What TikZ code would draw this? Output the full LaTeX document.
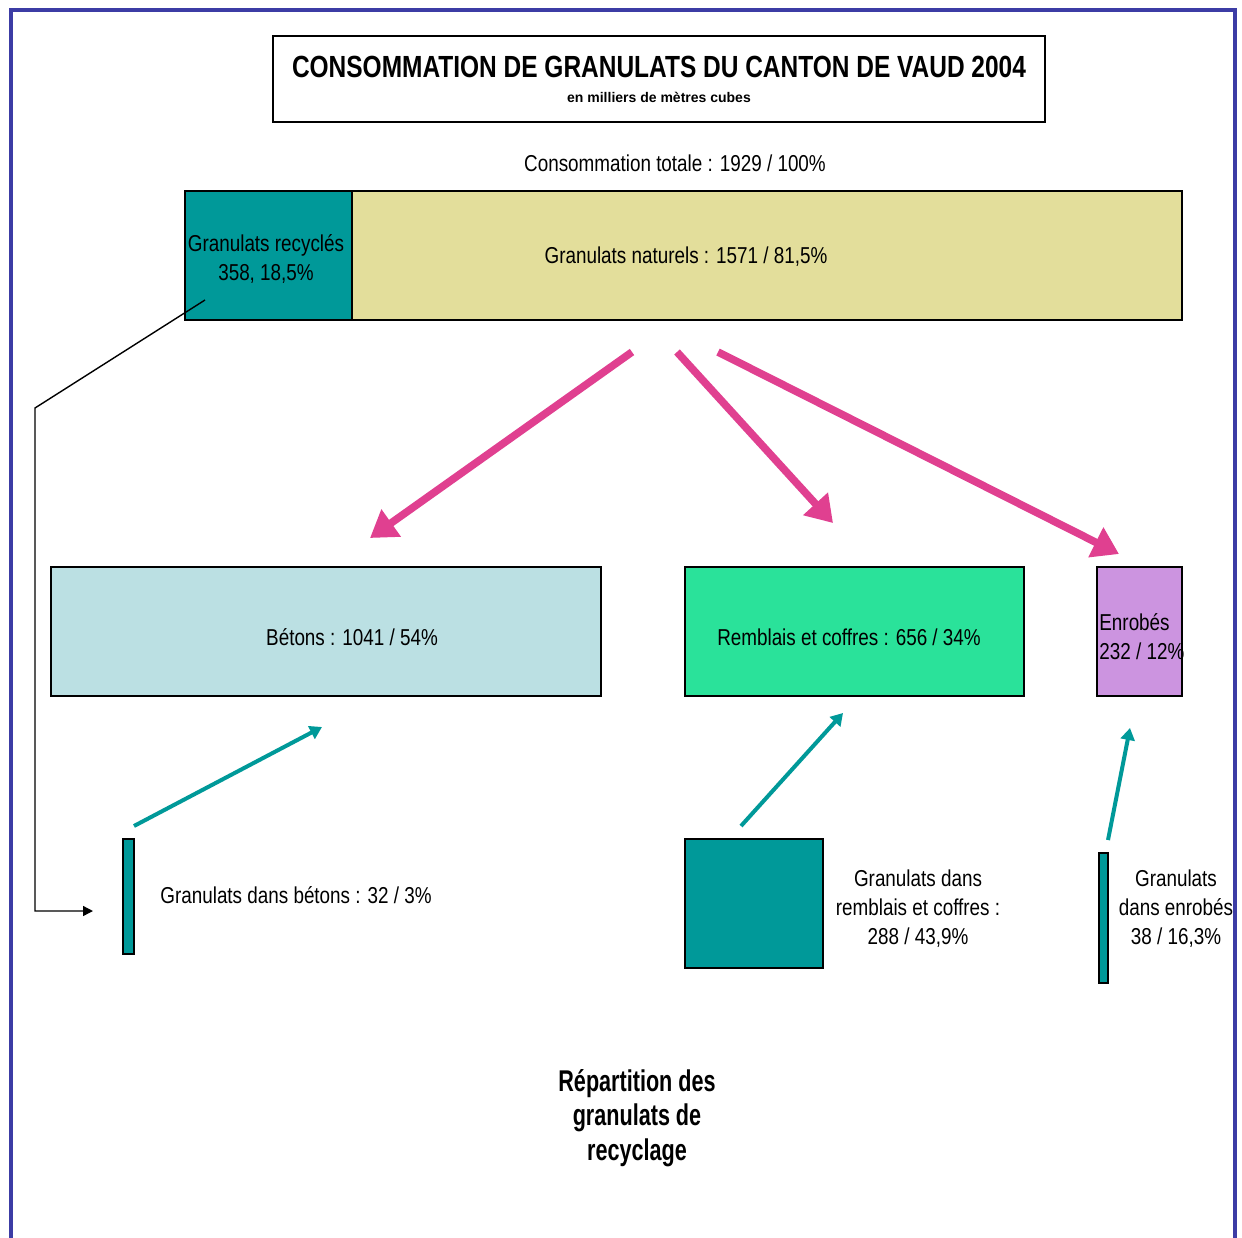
\documentclass[tikz,border=0pt]{standalone}
\usepackage{fontspec}
\setmainfont{Liberation Sans}
\newfontfamily\condf[FakeStretch=0.82]{Liberation Sans}
\newfontfamily\titlef[FakeStretch=0.8]{Liberation Sans}
\newfontfamily\footf[FakeStretch=0.72]{Liberation Sans}
\usetikzlibrary{arrows.meta}
\definecolor{tealc}{RGB}{0,153,153}
\definecolor{khaki}{RGB}{227,222,155}
\definecolor{lblue}{RGB}{187,224,227}
\definecolor{mint}{RGB}{42,226,154}
\definecolor{violetc}{RGB}{204,148,224}
\definecolor{pinkc}{RGB}{224,64,144}
\definecolor{framec}{RGB}{60,60,165}
\tikzset{
  blk/.style={draw=black, line width=0.8pt, inner sep=0pt, outer sep=0pt},
  txt/.style={inner sep=0pt, font=\condf\fontsize{11.5}{14.5}\selectfont, align=center},
  pinkarrow/.style={draw=pinkc, line width=3.8pt, -{Triangle[length=13pt,width=16pt]}},
  tealarrow/.style={draw=tealc, line width=2pt, -{Triangle[length=6pt,width=7pt]}},
  blackarrow/.style={draw=black, line width=0.7pt, -{Triangle[length=5pt,width=5pt]}}
}
\begin{document}
\begin{tikzpicture}[x=0.5pt,y=-0.5pt]
\useasboundingbox (0,0) rectangle (1242,1237);
\fill[white] (0,0) rectangle (1242,1237);
% outer frame
\draw[framec, line width=2pt] (10.5,1240) -- (10.5,9.5) -- (1235,9.5) -- (1235,1240);
% title
\node[blk, fill=white, minimum width=386pt, minimum height=43pt] (titlebox) at (659,79) {};
\node[inner sep=0pt, font=\titlef\bfseries\fontsize{15.3}{18}\selectfont] (title) at (659,67) {CONSOMMATION DE GRANULATS DU CANTON DE VAUD 2004};
\node[inner sep=0pt, font=\bfseries\fontsize{7}{8}\selectfont] (subtitle) at (659,97) {en milliers de mètres cubes};
\node[txt] (total) at (675,163) {Consommation totale : 1929 / 100\%};
% top bar
\node[blk, fill=tealc, minimum width=83.5pt, minimum height=64.5pt] (rec) at (268.5,255.5) {};
\node[blk, fill=khaki, minimum width=415pt, minimum height=64.5pt] (nat) at (767,255.5) {};
\node[txt] (rectxt) at (266,259) {Granulats recyclés\\358, 18,5\%};
\node[txt] (nattxt) at (686,257) {Granulats naturels : 1571 / 81,5\%};
% destination boxes
\node[blk, fill=lblue, minimum width=275pt, minimum height=64.5pt] (beton) at (326,631.5) {};
\node[blk, fill=mint, minimum width=169.5pt, minimum height=64.5pt] (remb) at (854.5,631.5) {};
\node[blk, fill=violetc, minimum width=42.5pt, minimum height=64.5pt] (enr) at (1139.5,631.5) {};
\node[txt] (betontxt) at (352,637) {Bétons : 1041 / 54\%};
\node[txt] (rembtxt) at (849,637) {Remblais et coffres : 656 / 34\%};
\node[txt, align=left, anchor=west] (enrtxt) at (1099,637) {Enrobés\\232 / 12\%};
% recycled portions
\node[blk, fill=tealc, minimum width=5.5pt, minimum height=57.5pt] (gb) at (128.5,896.5) {};
\node[blk, fill=tealc, minimum width=69pt, minimum height=64.5pt] (gr) at (754,903.5) {};
\node[blk, fill=tealc, minimum width=4.5pt, minimum height=65pt] (ge) at (1103.5,918) {};
\node[txt, anchor=west] (gbtxt) at (160,895) {Granulats dans bétons : 32 / 3\%};
\node[txt] (grtxt) at (918,909) {Granulats dans\\remblais et coffres :\\288 / 43,9\%};
\node[txt] (getxt) at (1176,909) {Granulats\\dans enrobés\\38 / 16,3\%};
% pink arrows
\coordinate (p1s) at (632,352); \coordinate (p1e) at (370,538);
\coordinate (p2s) at (677,352); \coordinate (p2e) at (833,523);
\coordinate (p3s) at (718,352); \coordinate (p3e) at (1119,554);
\draw[pinkarrow] (p1s) -- (p1e);
\draw[pinkarrow] (p2s) -- (p2e);
\draw[pinkarrow] (p3s) -- (p3e);
% teal arrows
\coordinate (t1s) at (134,826); \coordinate (t1e) at (322,727);
\coordinate (t2s) at (741,826); \coordinate (t2e) at (843,713);
\coordinate (t3s) at (1108,840); \coordinate (t3e) at (1130,728);
\draw[tealarrow] (t1s) -- (t1e);
\draw[tealarrow] (t2s) -- (t2e);
\draw[tealarrow] (t3s) -- (t3e);
% black routing line
\coordinate (bs) at (205,300);
\coordinate (bk1) at (35,408);
\coordinate (bk2) at (35,911);
\coordinate (be) at (93,911);
\draw[blackarrow] (bs) -- (bk1) -- (bk2) -- (be);
% footer
\node[inner sep=0pt, align=center, font=\footf\bfseries\fontsize{15}{17.3}\selectfont] (foot) at (637,1118) {Répartition des\\granulats de\\recyclage};
\end{tikzpicture}
\end{document}
